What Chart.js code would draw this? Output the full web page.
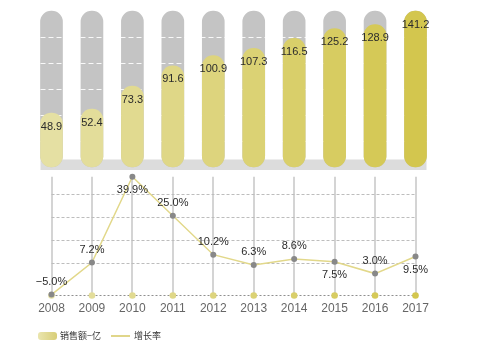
<!DOCTYPE html>
<html>
<head>
<meta charset="utf-8">
<script src="https://cdn.jsdelivr.net/npm/chart.js@4/dist/chart.umd.min.js"></script>
<style>
  html, body { margin: 0; padding: 0; background: #fff; }
  body { width: 500px; height: 355px; position: relative; overflow: hidden; }
  #topWrap { position: absolute; left: 0; top: 0; width: 500px; height: 175px; }
  #botWrap { position: absolute; left: 0; top: 172px; width: 500px; height: 158px; }
  .leg { position: absolute; font-family: "Noto Sans CJK SC", "Noto Sans", sans-serif; font-size: 9px; color: #333; line-height: 10px; white-space: nowrap; }
</style>
</head>
<body>
<div id="topWrap"><canvas id="topChart" width="500" height="175"></canvas></div>
<div id="botWrap"><canvas id="botChart" width="500" height="158"></canvas></div>
<div style="position:absolute;left:38px;top:331.5px;width:19px;height:8.5px;border-radius:3px;background:linear-gradient(90deg,#eae5ae,#d8ce78);"></div>
<div class="leg" id="leg1" style="left:60px;top:330.5px;"></div>
<div style="position:absolute;left:111px;top:335px;width:19px;height:1.5px;background:#e0d68a;"></div>
<div class="leg" id="leg2" style="left:134px;top:330.5px;"></div>
<script>
// ---- data ----
const categories = ['2008', '2009', '2010', '2011', '2012', '2013', '2014', '2015', '2016', '2017'];
const salesValues = [48.9, 52.4, 73.3, 91.6, 100.9, 107.3, 116.5, 125.2, 128.9, 141.2];
const growthRates = [-5.0, 7.2, 39.9, 25.0, 10.2, 6.3, 8.6, 7.5, 3.0, 9.5];
const seriesNames = ['销售额−亿', '增长率'];
const salesAxisMax = 141.2;
const salesGridSplits = 6;
const rateAxisMin = -5;
const rateAxisMax = 39.9;
const rateGridValues = [6.9, 15.7, 24.5, 33.3];
const rateLabelBelow = [false, false, true, false, false, false, false, true, false, true];

document.getElementById('leg1').textContent = seriesNames[0];
document.getElementById('leg2').textContent = seriesNames[1];

// ---- styles ----
function mix(a, b, t) {
  const pa = [1, 3, 5].map(i => parseInt(a.substr(i, 2), 16));
  const pb = [1, 3, 5].map(i => parseInt(b.substr(i, 2), 16));
  return 'rgb(' + pa.map((v, i) => Math.round(v + (pb[i] - v) * t)).join(',') + ')';
}
const barColors = categories.map((c, i) => mix('#e5e0a3', '#d3c64e', i / (categories.length - 1)));
const trackValues = categories.map(() => salesAxisMax);
const FONT = '"Liberation Sans", Arial, sans-serif';

// ---- top bar chart ----
const topDecor = {
  id: 'topDecor',
  beforeDatasetsDraw(chart) {
    const ctx = chart.ctx;
    const meta = chart.getDatasetMeta(0);
    const first = meta.data[0], last = meta.data[meta.data.length - 1];
    const x0 = first.x - first.width / 2, x1 = last.x + last.width / 2;
    ctx.save();
    ctx.fillStyle = '#dcdcdc';
    ctx.fillRect(x0, 159.5, x1 - x0, 10.5);
    ctx.restore();
  },
  afterDatasetDraw(chart, args) {
    if (args.index !== 1) return;
    const ctx = chart.ctx, y = chart.scales.y;
    const meta = chart.getDatasetMeta(0);
    const first = meta.data[0], last = meta.data[meta.data.length - 1];
    const x0 = first.x - first.width / 2, x1 = last.x + last.width / 2;
    ctx.save();
    ctx.strokeStyle = 'rgba(255,255,255,0.9)';
    ctx.lineWidth = 1.2;
    ctx.setLineDash([5, 3]);
    for (let k = 1; k < salesGridSplits; k++) {
      const py = Math.round(y.getPixelForValue(salesAxisMax * k / salesGridSplits)) + 0.5;
      ctx.beginPath(); ctx.moveTo(x0, py); ctx.lineTo(x1, py); ctx.stroke();
    }
    ctx.restore();
  },
  afterDatasetsDraw(chart) {
    const ctx = chart.ctx;
    const meta = chart.getDatasetMeta(0);
    ctx.save();
    ctx.font = '11px ' + FONT;
    ctx.fillStyle = '#2b2b2b';
    ctx.textAlign = 'center';
    ctx.textBaseline = 'middle';
    meta.data.forEach((bar, i) => {
      ctx.fillText(salesValues[i].toFixed(1), bar.x, bar.y + 13.5);
    });
    ctx.restore();
  }
};

new Chart(document.getElementById('topChart'), {
  type: 'bar',
  data: {
    labels: categories,
    datasets: [
      {
        label: seriesNames[0], data: salesValues, backgroundColor: barColors,
        borderRadius: 11, borderSkipped: false, barThickness: 22, grouped: false, clip: false, order: 1
      },
      {
        label: 'track', data: trackValues, backgroundColor: '#c4c4c4',
        borderRadius: 11, borderSkipped: false, barThickness: 22, grouped: false, clip: false, order: 2
      }
    ]
  },
  options: {
    responsive: false, animation: false, devicePixelRatio: 1,
    layout: { padding: { left: 51.5, right: 84.5, top: 11, bottom: 8 } },
    plugins: { legend: { display: false }, tooltip: { enabled: false } },
    scales: {
      x: { display: false, offset: false },
      y: { display: false, min: 0, max: salesAxisMax }
    }
  },
  plugins: [topDecor]
});

// ---- bottom line chart ----
const botDecor = {
  id: 'botDecor',
  beforeDatasetsDraw(chart) {
    const ctx = chart.ctx, y = chart.scales.y, x = chart.scales.x, area = chart.chartArea;
    ctx.save();
    ctx.strokeStyle = '#bdbdbd';
    ctx.lineWidth = 1;
    ctx.setLineDash([3, 2]);
    rateGridValues.forEach(v => {
      const py = Math.round(y.getPixelForValue(v)) + 0.5;
      ctx.beginPath(); ctx.moveTo(area.left, py); ctx.lineTo(area.right, py); ctx.stroke();
    });
    ctx.strokeStyle = '#8f8f8f';
    ctx.setLineDash([2, 2]);
    const by = Math.round(y.getPixelForValue(rateAxisMin)) + 0.5;
    ctx.beginPath(); ctx.moveTo(area.left, by); ctx.lineTo(area.right, by); ctx.stroke();
    ctx.setLineDash([]);
    categories.forEach((c, i) => {
      ctx.beginPath();
      ctx.fillStyle = barColors[i];
      ctx.arc(x.getPixelForValue(i), by, 3.3, 0, Math.PI * 2);
      ctx.fill();
    });
    ctx.restore();
  },
  afterDatasetsDraw(chart) {
    const ctx = chart.ctx;
    const meta = chart.getDatasetMeta(0);
    ctx.save();
    ctx.font = '11px ' + FONT;
    ctx.fillStyle = '#2b2b2b';
    ctx.textAlign = 'center';
    ctx.textBaseline = 'middle';
    meta.data.forEach((pt, i) => {
      const txt = growthRates[i].toFixed(1).replace('-', '\u2212') + '%';
      ctx.fillText(txt, pt.x, pt.y + (rateLabelBelow[i] ? 13.5 : -12.5));
    });
    ctx.restore();
  }
};

new Chart(document.getElementById('botChart'), {
  type: 'line',
  data: {
    labels: categories,
    datasets: [{
      label: seriesNames[1], data: growthRates,
      borderColor: '#e2d88a', borderWidth: 1.5, tension: 0,
      pointRadius: 3, pointBackgroundColor: '#888888', pointBorderWidth: 0,
      clip: false, fill: false
    }]
  },
  options: {
    responsive: false, animation: false, devicePixelRatio: 1,
    layout: { padding: { left: 51.5, right: 84.5, top: 4.7, bottom: 7 } },
    plugins: { legend: { display: false }, tooltip: { enabled: false } },
    scales: {
      x: {
        offset: false,
        grid: { color: '#d4d4d4', lineWidth: 2, drawTicks: false },
        border: { display: false },
        ticks: { color: '#666', font: { family: FONT, size: 12 }, padding: 7, maxRotation: 0, autoSkip: false }
      },
      y: { display: false, min: rateAxisMin, max: rateAxisMax }
    }
  },
  plugins: [botDecor]
});
</script>
</body>
</html>
